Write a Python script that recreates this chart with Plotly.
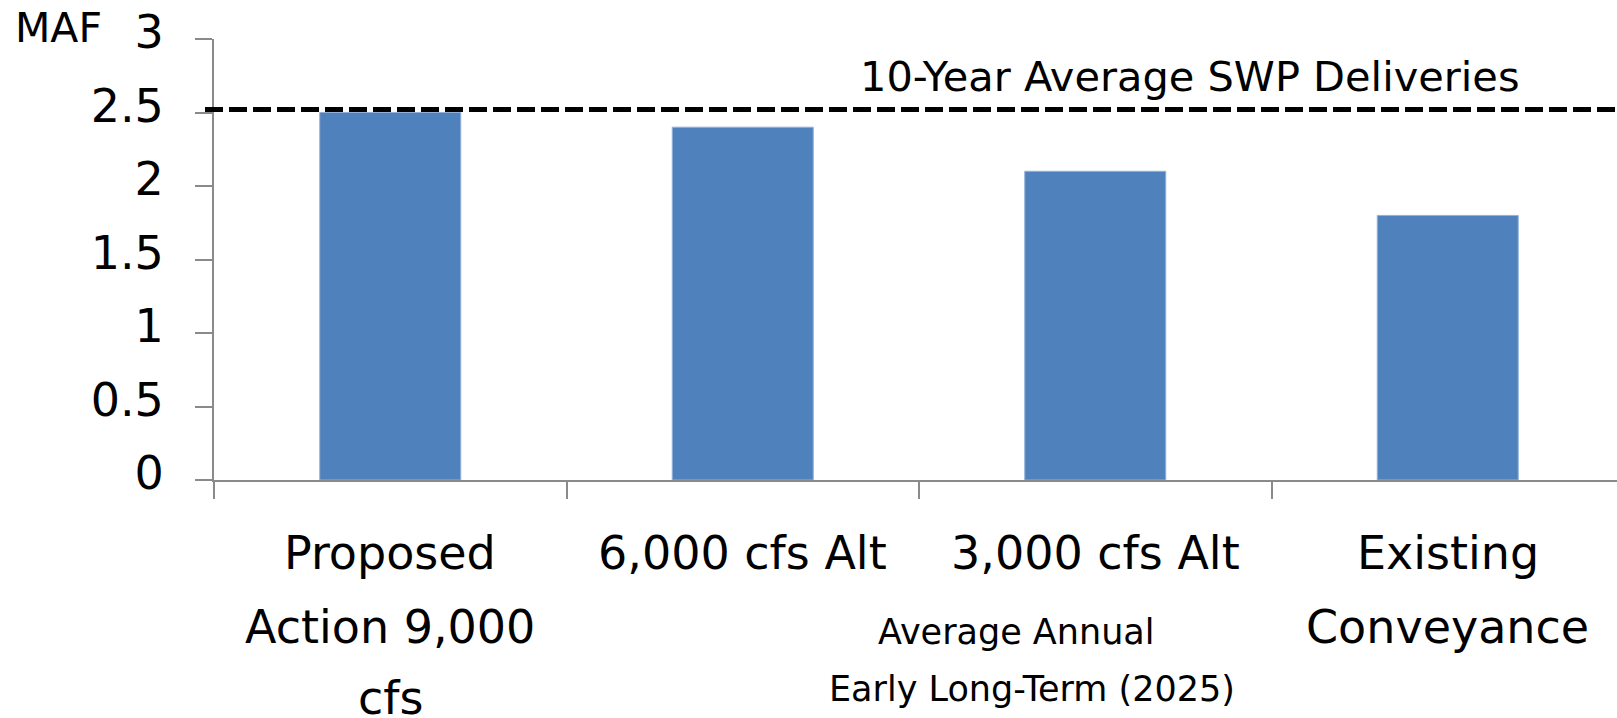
import plotly.graph_objects as go

# Average annual SWP deliveries, early long-term (2025), million acre-feet
categories = ["Proposed Action 9,000 cfs", "6,000 cfs Alt", "3,000 cfs Alt", "Existing Conveyance"]
label_lines = [["Proposed", "Action 9,000", "cfs"], ["6,000 cfs Alt"], ["3,000 cfs Alt"], ["Existing", "Conveyance"]]
deliveries = [2.50, 2.40, 2.10, 1.80]
ten_year_average = 2.52
y_ticks = [0, 0.5, 1, 1.5, 2, 2.5, 3]
y_ticktext = ["0", "0.5", "1", "1.5", "2", "2.5", "3"]

FONT = "DejaVu Sans"
W, H = 1617, 718
L, T, B = 214, 39, 238
PW = W - L
PH = H - T - B


def px_x(px):
    return (px - L) / PW


def px_y(py):
    return (H - B - py) / PH


fig = go.Figure()
fig.add_trace(go.Bar(
    x=categories, y=deliveries, width=0.4,
    marker=dict(color="#4F81BD", line=dict(color="#93B1D8", width=1)),
    hoverinfo="x+y",
))

fig.add_shape(type="line", xref="paper", yref="y",
              x0=px_x(205), x1=1.0, y0=ten_year_average, y1=ten_year_average,
              line=dict(color="black", width=5, dash="18px,6px"))

ann = []
ann.append(dict(text="MAF", xref="paper", yref="paper", x=px_x(13), y=px_y(28),
                xanchor="left", yanchor="middle", showarrow=False,
                font=dict(size=41, color="black", family=FONT)))
ann.append(dict(text="10-Year Average SWP Deliveries", xref="paper", yref="paper",
                x=px_x(1190), y=px_y(76), xanchor="center", yanchor="middle", showarrow=False,
                font=dict(size=41.5, color="black", family=FONT)))

# category labels, one annotation per line
line_mid = [553, 627, 698]
for cat, lines in zip(categories, label_lines):
    for i, txt in enumerate(lines):
        ann.append(dict(text=txt, xref="x", yref="paper", x=cat, y=px_y(line_mid[i]),
                        xanchor="center", yanchor="middle", showarrow=False,
                        font=dict(size=46, color="black", family=FONT)))

# axis title
ann.append(dict(text="Average Annual", xref="paper", yref="paper", x=px_x(1016), y=px_y(632),
                xanchor="center", yanchor="middle", showarrow=False,
                font=dict(size=35, color="black", family=FONT)))
ann.append(dict(text="Early Long-Term (2025)", xref="paper", yref="paper", x=px_x(1032), y=px_y(689),
                xanchor="center", yanchor="middle", showarrow=False,
                font=dict(size=35, color="black", family=FONT)))

fig.update_layout(
    width=W, height=H,
    margin=dict(l=L, r=0, t=T, b=B, pad=0),
    paper_bgcolor="white", plot_bgcolor="white",
    showlegend=False,
    annotations=ann,
    font=dict(family=FONT, color="black"),
    xaxis=dict(
        type="category", range=[-0.5, -0.5 + PW / 352.5],
        showline=True, linecolor="#8a8a8a", linewidth=2,
        ticks="outside", tickson="boundaries", ticklen=17, tickwidth=2, tickcolor="#8a8a8a",
        showticklabels=False, showgrid=False, zeroline=False, fixedrange=True,
    ),
    yaxis=dict(
        range=[0, 3], tickvals=y_ticks, ticktext=y_ticktext,
        showline=True, linecolor="#8a8a8a", linewidth=2,
        ticks="outside", ticklen=17, tickwidth=2, tickcolor="#8a8a8a",
        tickfont=dict(size=46, color="black", family=FONT),
        ticklabelstandoff=22, ticklabelshift=-7,
        showgrid=False, zeroline=False, fixedrange=True,
    ),
)

fig.write_html("out.html")
